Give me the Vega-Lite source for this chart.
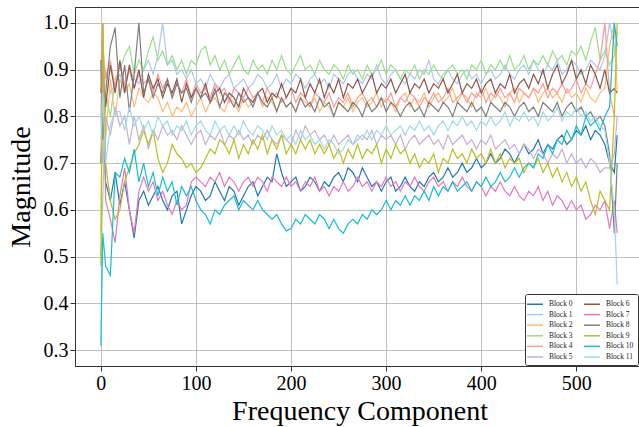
{
 "$schema": "https://vega.github.io/schema/vega-lite/v6.json",
 "width": 569, "height": 359,
 "autosize": {"type": "none"},
 "padding": {"left": 75, "top": 7, "right": 0, "bottom": 61},
 "background": "white",
 "config": {"font": "Liberation Serif", "view": {"stroke": "#333", "strokeWidth": 1}},
 "data": {"values": [
{"x":0,"b0":0.70,"b1":0.92,"b2":0.55,"b3":0.50,"b4":0.80,"b5":0.80,"b6":0.85,"b7":0.85,"b8":0.92,"b9":0.48,"b10":0.31,"b11":0.75},
{"x":2,"b0":0.85,"b1":0.80,"b2":1.00,"b3":0.62,"b4":0.95,"b5":0.70,"b6":0.90,"b7":1.00,"b8":0.75,"b9":1.00,"b10":0.55,"b11":0.85},
{"x":5,"b0":0.66,"b1":0.90,"b2":0.75,"b3":0.85,"b4":0.88,"b5":0.80,"b6":0.82,"b7":0.62,"b8":0.85,"b9":0.70,"b10":0.48,"b11":0.70},
{"x":10,"b0":0.62,"b1":0.85,"b2":0.88,"b3":0.80,"b4":0.92,"b5":0.76,"b6":0.91,"b7":0.58,"b8":0.95,"b9":0.62,"b10":0.46,"b11":0.78},
{"x":15,"b0":0.68,"b1":0.87,"b2":0.80,"b3":0.88,"b4":0.86,"b5":0.82,"b6":0.85,"b7":0.53,"b8":0.99,"b9":0.58,"b10":0.68,"b11":0.81},
{"x":20,"b0":0.61,"b1":0.89,"b2":0.88,"b3":0.90,"b4":0.91,"b5":0.78,"b6":0.92,"b7":0.63,"b8":0.84,"b9":0.60,"b10":0.67,"b11":0.81},
{"x":25,"b0":0.66,"b1":0.86,"b2":0.85,"b3":0.93,"b4":0.87,"b5":0.80,"b6":0.85,"b7":0.69,"b8":0.91,"b9":0.66,"b10":0.71,"b11":0.77},
{"x":30,"b0":0.60,"b1":0.90,"b2":0.87,"b3":0.95,"b4":0.90,"b5":0.74,"b6":0.91,"b7":0.60,"b8":0.81,"b9":0.69,"b10":0.68,"b11":0.82},
{"x":35,"b0":0.54,"b1":0.88,"b2":0.82,"b3":0.89,"b4":0.86,"b5":0.80,"b6":0.86,"b7":0.55,"b8":0.89,"b9":0.72,"b10":0.73,"b11":0.78},
{"x":40,"b0":0.62,"b1":0.87,"b2":0.86,"b3":0.92,"b4":0.89,"b5":0.75,"b6":0.90,"b7":0.64,"b8":1.00,"b9":0.74,"b10":0.66,"b11":0.80},
{"x":45,"b0":0.64,"b1":0.90,"b2":0.84,"b3":0.90,"b4":0.87,"b5":0.78,"b6":0.84,"b7":0.67,"b8":0.85,"b9":0.77,"b10":0.70,"b11":0.77},
{"x":50,"b0":0.61,"b1":0.92,"b2":0.83,"b3":0.94,"b4":0.88,"b5":0.73,"b6":0.89,"b7":0.64,"b8":0.88,"b9":0.74,"b10":0.65,"b11":0.79},
{"x":55,"b0":0.63,"b1":0.89,"b2":0.85,"b3":0.97,"b4":0.85,"b5":0.77,"b6":0.86,"b7":0.66,"b8":0.84,"b9":0.77,"b10":0.68,"b11":0.76},
{"x":60,"b0":0.65,"b1":0.93,"b2":0.84,"b3":0.92,"b4":0.89,"b5":0.75,"b6":0.88,"b7":0.62,"b8":0.87,"b9":0.71,"b10":0.63,"b11":0.80},
{"x":65,"b0":0.62,"b1":1.00,"b2":0.81,"b3":0.94,"b4":0.86,"b5":0.78,"b6":0.84,"b7":0.64,"b8":0.85,"b9":0.68,"b10":0.67,"b11":0.78},
{"x":70,"b0":0.60,"b1":0.91,"b2":0.83,"b3":0.91,"b4":0.88,"b5":0.76,"b6":0.87,"b7":0.61,"b8":0.88,"b9":0.70,"b10":0.64,"b11":0.79},
{"x":75,"b0":0.63,"b1":0.92,"b2":0.80,"b3":0.93,"b4":0.84,"b5":0.77,"b6":0.85,"b7":0.59,"b8":0.84,"b9":0.74,"b10":0.66,"b11":0.76},
{"x":80,"b0":0.64,"b1":0.89,"b2":0.82,"b3":0.90,"b4":0.87,"b5":0.75,"b6":0.88,"b7":0.62,"b8":0.87,"b9":0.72,"b10":0.61,"b11":0.78},
{"x":85,"b0":0.57,"b1":0.90,"b2":0.81,"b3":0.92,"b4":0.85,"b5":0.78,"b6":0.83,"b7":0.60,"b8":0.85,"b9":0.71,"b10":0.65,"b11":0.77},
{"x":90,"b0":0.60,"b1":0.88,"b2":0.83,"b3":0.89,"b4":0.88,"b5":0.76,"b6":0.87,"b7":0.61,"b8":0.86,"b9":0.69,"b10":0.63,"b11":0.79},
{"x":95,"b0":0.63,"b1":0.90,"b2":0.80,"b3":0.92,"b4":0.84,"b5":0.74,"b6":0.84,"b7":0.66,"b8":0.83,"b9":0.70,"b10":0.65,"b11":0.76},
{"x":100,"b0":0.65,"b1":0.87,"b2":0.82,"b3":0.91,"b4":0.87,"b5":0.76,"b6":0.86,"b7":0.67,"b8":0.86,"b9":0.68,"b10":0.62,"b11":0.78},
{"x":105,"b0":0.64,"b1":0.88,"b2":0.84,"b3":0.94,"b4":0.85,"b5":0.77,"b6":0.84,"b7":0.66,"b8":0.84,"b9":0.69,"b10":0.60,"b11":0.79},
{"x":110,"b0":0.62,"b1":0.86,"b2":0.81,"b3":0.95,"b4":0.86,"b5":0.74,"b6":0.87,"b7":0.65,"b8":0.85,"b9":0.71,"b10":0.59,"b11":0.77},
{"x":115,"b0":0.63,"b1":0.89,"b2":0.83,"b3":0.91,"b4":0.84,"b5":0.76,"b6":0.83,"b7":0.67,"b8":0.83,"b9":0.73,"b10":0.57,"b11":0.76},
{"x":120,"b0":0.66,"b1":0.87,"b2":0.84,"b3":0.93,"b4":0.87,"b5":0.75,"b6":0.85,"b7":0.66,"b8":0.86,"b9":0.72,"b10":0.60,"b11":0.79},
{"x":125,"b0":0.64,"b1":0.86,"b2":0.82,"b3":0.90,"b4":0.85,"b5":0.77,"b6":0.86,"b7":0.68,"b8":0.82,"b9":0.75,"b10":0.59,"b11":0.77},
{"x":130,"b0":0.62,"b1":0.88,"b2":0.81,"b3":0.92,"b4":0.86,"b5":0.74,"b6":0.83,"b7":0.65,"b8":0.85,"b9":0.74,"b10":0.61,"b11":0.78},
{"x":135,"b0":0.65,"b1":0.89,"b2":0.84,"b3":0.89,"b4":0.83,"b5":0.76,"b6":0.85,"b7":0.67,"b8":0.84,"b9":0.72,"b10":0.62,"b11":0.76},
{"x":140,"b0":0.64,"b1":0.86,"b2":0.83,"b3":0.91,"b4":0.86,"b5":0.75,"b6":0.84,"b7":0.66,"b8":0.82,"b9":0.75,"b10":0.63,"b11":0.78},
{"x":145,"b0":0.61,"b1":0.87,"b2":0.81,"b3":0.93,"b4":0.85,"b5":0.77,"b6":0.82,"b7":0.64,"b8":0.85,"b9":0.71,"b10":0.60,"b11":0.76},
{"x":150,"b0":0.63,"b1":0.88,"b2":0.84,"b3":0.90,"b4":0.84,"b5":0.75,"b6":0.86,"b7":0.66,"b8":0.83,"b9":0.74,"b10":0.62,"b11":0.79},
{"x":155,"b0":0.65,"b1":0.86,"b2":0.82,"b3":0.89,"b4":0.86,"b5":0.76,"b6":0.84,"b7":0.67,"b8":0.84,"b9":0.72,"b10":0.61,"b11":0.77},
{"x":160,"b0":0.66,"b1":0.87,"b2":0.83,"b3":0.92,"b4":0.84,"b5":0.74,"b6":0.83,"b7":0.65,"b8":0.82,"b9":0.75,"b10":0.60,"b11":0.76},
{"x":165,"b0":0.63,"b1":0.89,"b2":0.85,"b3":0.90,"b4":0.85,"b5":0.76,"b6":0.85,"b7":0.67,"b8":0.85,"b9":0.73,"b10":0.62,"b11":0.78},
{"x":170,"b0":0.65,"b1":0.88,"b2":0.82,"b3":0.91,"b4":0.83,"b5":0.75,"b6":0.86,"b7":0.66,"b8":0.83,"b9":0.76,"b10":0.60,"b11":0.77},
{"x":175,"b0":0.67,"b1":0.86,"b2":0.84,"b3":0.89,"b4":0.86,"b5":0.77,"b6":0.83,"b7":0.64,"b8":0.82,"b9":0.72,"b10":0.59,"b11":0.75},
{"x":180,"b0":0.66,"b1":0.87,"b2":0.83,"b3":0.92,"b4":0.84,"b5":0.75,"b6":0.85,"b7":0.67,"b8":0.84,"b9":0.75,"b10":0.58,"b11":0.78},
{"x":185,"b0":0.72,"b1":0.89,"b2":0.81,"b3":0.90,"b4":0.85,"b5":0.74,"b6":0.84,"b7":0.66,"b8":0.81,"b9":0.73,"b10":0.59,"b11":0.76},
{"x":190,"b0":0.68,"b1":0.86,"b2":0.84,"b3":0.93,"b4":0.83,"b5":0.76,"b6":0.87,"b7":0.65,"b8":0.84,"b9":0.76,"b10":0.57,"b11":0.77},
{"x":195,"b0":0.65,"b1":0.88,"b2":0.82,"b3":0.90,"b4":0.84,"b5":0.75,"b6":0.84,"b7":0.67,"b8":0.82,"b9":0.72,"b10":0.555,"b11":0.75},
{"x":200,"b0":0.66,"b1":0.87,"b2":0.83,"b3":0.89,"b4":0.86,"b5":0.74,"b6":0.86,"b7":0.65,"b8":0.83,"b9":0.74,"b10":0.56,"b11":0.76},
{"x":205,"b0":0.67,"b1":0.89,"b2":0.81,"b3":0.91,"b4":0.83,"b5":0.77,"b6":0.85,"b7":0.66,"b8":0.81,"b9":0.72,"b10":0.58,"b11":0.74},
{"x":210,"b0":0.64,"b1":0.88,"b2":0.84,"b3":0.93,"b4":0.85,"b5":0.75,"b6":0.88,"b7":0.64,"b8":0.84,"b9":0.75,"b10":0.57,"b11":0.77},
{"x":215,"b0":0.65,"b1":0.86,"b2":0.83,"b3":0.90,"b4":0.84,"b5":0.78,"b6":0.84,"b7":0.66,"b8":0.82,"b9":0.73,"b10":0.59,"b11":0.75},
{"x":220,"b0":0.67,"b1":0.88,"b2":0.82,"b3":0.91,"b4":0.82,"b5":0.76,"b6":0.87,"b7":0.65,"b8":0.83,"b9":0.75,"b10":0.58,"b11":0.76},
{"x":225,"b0":0.66,"b1":0.89,"b2":0.84,"b3":0.89,"b4":0.85,"b5":0.77,"b6":0.85,"b7":0.67,"b8":0.81,"b9":0.72,"b10":0.57,"b11":0.74},
{"x":230,"b0":0.64,"b1":0.87,"b2":0.81,"b3":0.92,"b4":0.84,"b5":0.75,"b6":0.88,"b7":0.64,"b8":0.84,"b9":0.74,"b10":0.59,"b11":0.75},
{"x":235,"b0":0.66,"b1":0.88,"b2":0.83,"b3":0.90,"b4":0.83,"b5":0.76,"b6":0.84,"b7":0.65,"b8":0.82,"b9":0.72,"b10":0.58,"b11":0.73},
{"x":240,"b0":0.65,"b1":0.86,"b2":0.82,"b3":0.89,"b4":0.85,"b5":0.74,"b6":0.87,"b7":0.63,"b8":0.83,"b9":0.74,"b10":0.56,"b11":0.75},
{"x":245,"b0":0.67,"b1":0.89,"b2":0.80,"b3":0.91,"b4":0.82,"b5":0.76,"b6":0.85,"b7":0.65,"b8":0.80,"b9":0.71,"b10":0.58,"b11":0.74},
{"x":250,"b0":0.68,"b1":0.88,"b2":0.83,"b3":0.90,"b4":0.84,"b5":0.74,"b6":0.88,"b7":0.64,"b8":0.83,"b9":0.73,"b10":0.56,"b11":0.72},
{"x":255,"b0":0.66,"b1":0.87,"b2":0.82,"b3":0.88,"b4":0.83,"b5":0.75,"b6":0.84,"b7":0.66,"b8":0.82,"b9":0.70,"b10":0.55,"b11":0.73},
{"x":260,"b0":0.69,"b1":0.89,"b2":0.84,"b3":0.91,"b4":0.85,"b5":0.76,"b6":0.87,"b7":0.64,"b8":0.81,"b9":0.73,"b10":0.57,"b11":0.75},
{"x":265,"b0":0.68,"b1":0.90,"b2":0.81,"b3":0.89,"b4":0.82,"b5":0.74,"b6":0.86,"b7":0.65,"b8":0.83,"b9":0.71,"b10":0.58,"b11":0.74},
{"x":270,"b0":0.66,"b1":0.88,"b2":0.83,"b3":0.90,"b4":0.84,"b5":0.75,"b6":0.88,"b7":0.67,"b8":0.82,"b9":0.74,"b10":0.57,"b11":0.76},
{"x":275,"b0":0.69,"b1":0.87,"b2":0.84,"b3":0.88,"b4":0.85,"b5":0.76,"b6":0.85,"b7":0.65,"b8":0.80,"b9":0.71,"b10":0.59,"b11":0.75},
{"x":280,"b0":0.67,"b1":0.89,"b2":0.82,"b3":0.91,"b4":0.83,"b5":0.75,"b6":0.87,"b7":0.66,"b8":0.83,"b9":0.73,"b10":0.58,"b11":0.77},
{"x":285,"b0":0.65,"b1":0.88,"b2":0.83,"b3":0.89,"b4":0.84,"b5":0.77,"b6":0.89,"b7":0.64,"b8":0.81,"b9":0.72,"b10":0.60,"b11":0.75},
{"x":290,"b0":0.66,"b1":0.91,"b2":0.85,"b3":0.90,"b4":0.82,"b5":0.74,"b6":0.85,"b7":0.66,"b8":0.82,"b9":0.74,"b10":0.59,"b11":0.77},
{"x":295,"b0":0.64,"b1":0.88,"b2":0.82,"b3":0.92,"b4":0.84,"b5":0.76,"b6":0.87,"b7":0.65,"b8":0.84,"b9":0.70,"b10":0.60,"b11":0.76},
{"x":300,"b0":0.66,"b1":0.87,"b2":0.84,"b3":0.89,"b4":0.83,"b5":0.75,"b6":0.86,"b7":0.67,"b8":0.81,"b9":0.73,"b10":0.62,"b11":0.78},
{"x":305,"b0":0.67,"b1":0.89,"b2":0.83,"b3":0.91,"b4":0.85,"b5":0.76,"b6":0.88,"b7":0.65,"b8":0.83,"b9":0.71,"b10":0.60,"b11":0.76},
{"x":310,"b0":0.64,"b1":0.90,"b2":0.81,"b3":0.90,"b4":0.82,"b5":0.74,"b6":0.85,"b7":0.66,"b8":0.82,"b9":0.74,"b10":0.62,"b11":0.77},
{"x":315,"b0":0.65,"b1":0.88,"b2":0.84,"b3":0.88,"b4":0.84,"b5":0.76,"b6":0.87,"b7":0.64,"b8":0.80,"b9":0.72,"b10":0.61,"b11":0.78},
{"x":320,"b0":0.67,"b1":0.87,"b2":0.85,"b3":0.90,"b4":0.83,"b5":0.73,"b6":0.89,"b7":0.66,"b8":0.82,"b9":0.73,"b10":0.63,"b11":0.76},
{"x":325,"b0":0.65,"b1":0.89,"b2":0.82,"b3":0.89,"b4":0.85,"b5":0.75,"b6":0.85,"b7":0.65,"b8":0.83,"b9":0.70,"b10":0.61,"b11":0.78},
{"x":330,"b0":0.64,"b1":0.88,"b2":0.84,"b3":0.91,"b4":0.84,"b5":0.76,"b6":0.87,"b7":0.67,"b8":0.81,"b9":0.72,"b10":0.63,"b11":0.77},
{"x":335,"b0":0.66,"b1":0.90,"b2":0.83,"b3":0.88,"b4":0.82,"b5":0.74,"b6":0.86,"b7":0.65,"b8":0.82,"b9":0.69,"b10":0.62,"b11":0.79},
{"x":340,"b0":0.65,"b1":0.89,"b2":0.85,"b3":0.90,"b4":0.84,"b5":0.75,"b6":0.88,"b7":0.64,"b8":0.80,"b9":0.71,"b10":0.64,"b11":0.77},
{"x":345,"b0":0.67,"b1":0.92,"b2":0.82,"b3":0.89,"b4":0.83,"b5":0.76,"b6":0.85,"b7":0.66,"b8":0.83,"b9":0.70,"b10":0.62,"b11":0.78},
{"x":350,"b0":0.68,"b1":0.88,"b2":0.84,"b3":0.91,"b4":0.85,"b5":0.74,"b6":0.87,"b7":0.67,"b8":0.82,"b9":0.72,"b10":0.65,"b11":0.76},
{"x":355,"b0":0.66,"b1":0.87,"b2":0.85,"b3":0.89,"b4":0.83,"b5":0.75,"b6":0.86,"b7":0.65,"b8":0.81,"b9":0.68,"b10":0.63,"b11":0.78},
{"x":360,"b0":0.67,"b1":0.89,"b2":0.83,"b3":0.88,"b4":0.84,"b5":0.73,"b6":0.88,"b7":0.66,"b8":0.83,"b9":0.71,"b10":0.65,"b11":0.79},
{"x":365,"b0":0.69,"b1":0.90,"b2":0.84,"b3":0.90,"b4":0.86,"b5":0.76,"b6":0.85,"b7":0.64,"b8":0.82,"b9":0.70,"b10":0.64,"b11":0.77},
{"x":370,"b0":0.67,"b1":0.88,"b2":0.86,"b3":0.91,"b4":0.83,"b5":0.74,"b6":0.87,"b7":0.66,"b8":0.80,"b9":0.73,"b10":0.66,"b11":0.79},
{"x":375,"b0":0.68,"b1":0.87,"b2":0.83,"b3":0.89,"b4":0.84,"b5":0.75,"b6":0.89,"b7":0.65,"b8":0.83,"b9":0.71,"b10":0.64,"b11":0.78},
{"x":380,"b0":0.70,"b1":0.89,"b2":0.85,"b3":0.90,"b4":0.85,"b5":0.76,"b6":0.85,"b7":0.67,"b8":0.82,"b9":0.72,"b10":0.65,"b11":0.80},
{"x":385,"b0":0.68,"b1":0.90,"b2":0.84,"b3":0.88,"b4":0.83,"b5":0.74,"b6":0.87,"b7":0.65,"b8":0.81,"b9":0.70,"b10":0.66,"b11":0.78},
{"x":390,"b0":0.69,"b1":0.88,"b2":0.82,"b3":0.91,"b4":0.85,"b5":0.75,"b6":0.86,"b7":0.64,"b8":0.83,"b9":0.73,"b10":0.64,"b11":0.79},
{"x":395,"b0":0.71,"b1":0.89,"b2":0.85,"b3":0.90,"b4":0.84,"b5":0.73,"b6":0.88,"b7":0.66,"b8":0.81,"b9":0.71,"b10":0.66,"b11":0.77},
{"x":400,"b0":0.69,"b1":0.87,"b2":0.84,"b3":0.92,"b4":0.86,"b5":0.75,"b6":0.85,"b7":0.65,"b8":0.82,"b9":0.72,"b10":0.65,"b11":0.79},
{"x":405,"b0":0.70,"b1":0.89,"b2":0.86,"b3":0.89,"b4":0.83,"b5":0.74,"b6":0.87,"b7":0.63,"b8":0.80,"b9":0.70,"b10":0.67,"b11":0.78},
{"x":410,"b0":0.72,"b1":0.90,"b2":0.83,"b3":0.91,"b4":0.85,"b5":0.76,"b6":0.88,"b7":0.65,"b8":0.83,"b9":0.73,"b10":0.65,"b11":0.80},
{"x":415,"b0":0.70,"b1":0.88,"b2":0.85,"b3":0.90,"b4":0.84,"b5":0.73,"b6":0.85,"b7":0.64,"b8":0.82,"b9":0.70,"b10":0.66,"b11":0.78},
{"x":420,"b0":0.71,"b1":0.89,"b2":0.84,"b3":0.92,"b4":0.86,"b5":0.74,"b6":0.87,"b7":0.66,"b8":0.81,"b9":0.72,"b10":0.68,"b11":0.79},
{"x":425,"b0":0.73,"b1":0.91,"b2":0.82,"b3":0.90,"b4":0.84,"b5":0.75,"b6":0.86,"b7":0.64,"b8":0.83,"b9":0.69,"b10":0.66,"b11":0.81},
{"x":430,"b0":0.72,"b1":0.89,"b2":0.85,"b3":0.93,"b4":0.85,"b5":0.73,"b6":0.89,"b7":0.63,"b8":0.82,"b9":0.71,"b10":0.67,"b11":0.78},
{"x":435,"b0":0.70,"b1":0.88,"b2":0.86,"b3":0.90,"b4":0.83,"b5":0.74,"b6":0.85,"b7":0.65,"b8":0.80,"b9":0.70,"b10":0.69,"b11":0.80},
{"x":440,"b0":0.72,"b1":0.90,"b2":0.83,"b3":0.91,"b4":0.86,"b5":0.72,"b6":0.87,"b7":0.63,"b8":0.82,"b9":0.71,"b10":0.67,"b11":0.79},
{"x":445,"b0":0.74,"b1":0.91,"b2":0.85,"b3":0.93,"b4":0.85,"b5":0.74,"b6":0.88,"b7":0.62,"b8":0.83,"b9":0.68,"b10":0.69,"b11":0.81},
{"x":450,"b0":0.72,"b1":0.89,"b2":0.84,"b3":0.90,"b4":0.84,"b5":0.73,"b6":0.86,"b7":0.64,"b8":0.81,"b9":0.70,"b10":0.70,"b11":0.79},
{"x":455,"b0":0.73,"b1":0.92,"b2":0.86,"b3":0.92,"b4":0.86,"b5":0.71,"b6":0.89,"b7":0.63,"b8":0.82,"b9":0.69,"b10":0.69,"b11":0.80},
{"x":460,"b0":0.75,"b1":0.90,"b2":0.83,"b3":0.91,"b4":0.85,"b5":0.73,"b6":0.87,"b7":0.65,"b8":0.80,"b9":0.71,"b10":0.72,"b11":0.78},
{"x":465,"b0":0.72,"b1":0.89,"b2":0.85,"b3":0.93,"b4":0.87,"b5":0.72,"b6":0.90,"b7":0.62,"b8":0.83,"b9":0.68,"b10":0.71,"b11":0.81},
{"x":470,"b0":0.74,"b1":0.91,"b2":0.86,"b3":0.91,"b4":0.84,"b5":0.70,"b6":0.86,"b7":0.64,"b8":0.82,"b9":0.70,"b10":0.74,"b11":0.79},
{"x":475,"b0":0.73,"b1":0.90,"b2":0.84,"b3":0.94,"b4":0.86,"b5":0.72,"b6":0.89,"b7":0.61,"b8":0.81,"b9":0.67,"b10":0.72,"b11":0.80},
{"x":480,"b0":0.75,"b1":0.92,"b2":0.85,"b3":0.92,"b4":0.85,"b5":0.71,"b6":0.91,"b7":0.63,"b8":0.83,"b9":0.69,"b10":0.75,"b11":0.82},
{"x":485,"b0":0.76,"b1":0.89,"b2":0.83,"b3":0.93,"b4":0.87,"b5":0.73,"b6":0.87,"b7":0.62,"b8":0.80,"b9":0.66,"b10":0.74,"b11":0.79},
{"x":490,"b0":0.74,"b1":0.90,"b2":0.86,"b3":0.91,"b4":0.85,"b5":0.70,"b6":0.89,"b7":0.60,"b8":0.82,"b9":0.68,"b10":0.77,"b11":0.81},
{"x":495,"b0":0.75,"b1":0.92,"b2":0.84,"b3":0.94,"b4":0.86,"b5":0.72,"b6":0.92,"b7":0.62,"b8":0.83,"b9":0.65,"b10":0.75,"b11":0.80},
{"x":500,"b0":0.77,"b1":0.91,"b2":0.85,"b3":0.93,"b4":0.88,"b5":0.70,"b6":0.88,"b7":0.60,"b8":0.81,"b9":0.67,"b10":0.78,"b11":0.82},
{"x":505,"b0":0.76,"b1":0.89,"b2":0.83,"b3":0.95,"b4":0.85,"b5":0.71,"b6":0.90,"b7":0.61,"b8":0.82,"b9":0.64,"b10":0.76,"b11":0.80},
{"x":510,"b0":0.78,"b1":0.90,"b2":0.86,"b3":0.92,"b4":0.87,"b5":0.69,"b6":0.87,"b7":0.58,"b8":0.80,"b9":0.66,"b10":0.80,"b11":0.81},
{"x":515,"b0":0.75,"b1":0.92,"b2":0.84,"b3":0.96,"b4":0.86,"b5":0.71,"b6":0.91,"b7":0.59,"b8":0.81,"b9":0.62,"b10":0.78,"b11":0.79},
{"x":520,"b0":0.77,"b1":0.91,"b2":0.83,"b3":0.99,"b4":0.89,"b5":0.70,"b6":0.89,"b7":0.61,"b8":0.79,"b9":0.59,"b10":0.79,"b11":0.80},
{"x":525,"b0":0.76,"b1":0.90,"b2":0.85,"b3":0.92,"b4":0.92,"b5":0.68,"b6":0.86,"b7":0.60,"b8":0.80,"b9":0.64,"b10":0.77,"b11":0.78},
{"x":530,"b0":0.74,"b1":0.93,"b2":0.86,"b3":0.94,"b4":1.00,"b5":0.69,"b6":0.90,"b7":0.62,"b8":0.78,"b9":0.62,"b10":0.80,"b11":0.77},
{"x":535,"b0":0.70,"b1":1.00,"b2":0.95,"b3":0.91,"b4":0.85,"b5":0.69,"b6":0.85,"b7":0.56,"b8":0.72,"b9":0.60,"b10":0.82,"b11":0.70},
{"x":540,"b0":0.68,"b1":0.95,"b2":1.00,"b3":0.93,"b4":0.80,"b5":0.72,"b6":0.86,"b7":0.62,"b8":0.55,"b9":0.80,"b10":1.00,"b11":0.60},
{"x":543,"b0":0.76,"b1":0.90,"b2":0.85,"b3":0.98,"b4":0.80,"b5":0.80,"b6":0.85,"b7":0.55,"b8":0.70,"b9":1.00,"b10":0.95,"b11":0.44}
 ]},
 "transform": [{"fold": ["b0","b1","b2","b3","b4","b5","b6","b7","b8","b9","b10","b11"], "as": ["block","v"]}],
 "mark": {"type": "line", "strokeWidth": 1.2, "clip": true},
 "encoding": {
  "x": {"field": "x", "type": "quantitative",
        "scale": {"domain": [-27.2, 571.2], "nice": false, "zero": false},
        "axis": {"values": [0,100,200,300,400,500], "title": "Frequency Component", "titleFontSize": 28, "titleFontWeight": "normal", "titleColor": "#000", "titlePadding": 4,
                 "labelFontSize": 20, "labelColor": "#000", "labelPadding": 2, "tickSize": 5, "tickColor": "#333", "domainColor": "#333",
                 "gridColor": "#b0b0b0", "gridWidth": 0.8}},
  "y": {"field": "v", "type": "quantitative",
        "scale": {"domain": [0.266, 1.034], "nice": false, "zero": false},
        "axis": {"values": [0.3,0.4,0.5,0.6,0.7,0.8,0.9,1.0], "format": ".1f", "title": "Magnitude", "titleFontSize": 28, "titleFontWeight": "normal", "titleColor": "#000", "titlePadding": 8,
                 "labelFontSize": 20, "labelColor": "#000", "labelPadding": 2, "tickSize": 5, "tickColor": "#333", "domainColor": "#333",
                 "gridColor": "#b0b0b0", "gridWidth": 0.8}},
  "color": {"field": "block", "type": "nominal",
            "scale": {"domain": ["b0","b1","b2","b3","b4","b5","b6","b7","b8","b9","b10","b11"],
                      "range": ["#1f77b4","#aec7e8","#ffbb78","#98df8a","#ff9896","#c5b0d5","#8c564b","#e377c2","#7f7f7f","#bcbd22","#17becf","#9edae5"]},
            "legend": {"orient": "none", "legendX": 450, "legendY": 287, "columns": 2, "title": null,
                       "labelExpr": "'Block ' + slice(datum.label, 1)",
                       "symbolType": "M-1.6,0H1.6", "symbolSize": 100, "symbolStrokeWidth": 1.5,
                       "labelFontSize": 7.5, "labelColor": "#222", "labelOffset": 8, "rowPadding": 0.6, "columnPadding": 8,
                       "padding": 4, "strokeColor": "#333", "fillColor": "white", "cornerRadius": 2}}
 }
}
